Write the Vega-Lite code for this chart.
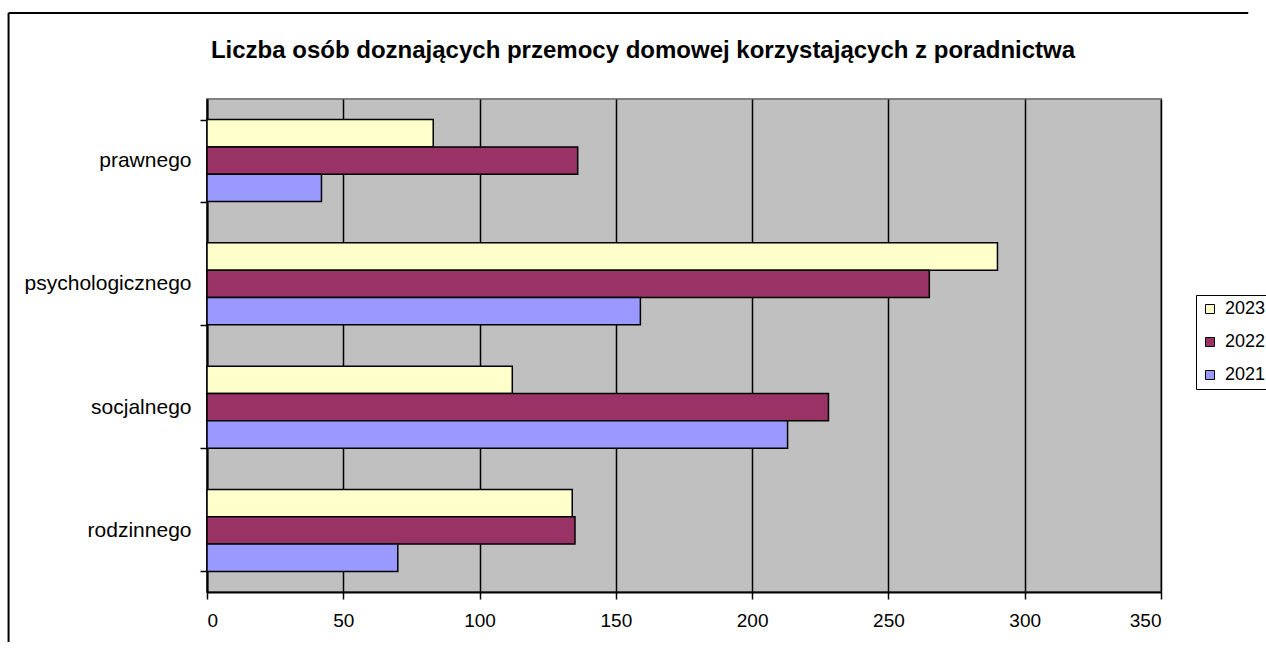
{
  "$schema": "https://vega.github.io/schema/vega-lite/v6.json",
  "width": 954,
  "height": 493,
  "autosize": {"type": "none"},
  "padding": {"left": 207, "top": 99, "right": 105, "bottom": 59},
  "background": "white",
  "title": {
    "text": "Liczba osób doznających przemocy domowej korzystających z poradnictwa",
    "font": "Liberation Sans",
    "fontSize": 24,
    "fontWeight": "bold",
    "color": "black",
    "anchor": "middle",
    "dx": -41,
    "baseline": "alphabetic",
    "offset": -70
  },
  "config": {
    "view": {"fill": "#C0C0C0", "stroke": "#808080", "strokeWidth": 2},
    "font": "Liberation Sans"
  },
  "datasets": {
    "bars": [
      {"rodzaj": "prawnego", "rok": "2023", "liczba": 83},
      {"rodzaj": "prawnego", "rok": "2022", "liczba": 136},
      {"rodzaj": "prawnego", "rok": "2021", "liczba": 42},
      {"rodzaj": "psychologicznego", "rok": "2023", "liczba": 290},
      {"rodzaj": "psychologicznego", "rok": "2022", "liczba": 265},
      {"rodzaj": "psychologicznego", "rok": "2021", "liczba": 159},
      {"rodzaj": "socjalnego", "rok": "2023", "liczba": 112},
      {"rodzaj": "socjalnego", "rok": "2022", "liczba": 228},
      {"rodzaj": "socjalnego", "rok": "2021", "liczba": 213},
      {"rodzaj": "rodzinnego", "rok": "2023", "liczba": 134},
      {"rodzaj": "rodzinnego", "rok": "2022", "liczba": 135},
      {"rodzaj": "rodzinnego", "rok": "2021", "liczba": 70}
    ],
    "frame": [{"frame": "chart"}]
  },
  "layer": [
    {
      "data": {"name": "bars"},
      "mark": {"type": "bar", "stroke": "black", "strokeWidth": 1.5, "opacity": 1},
      "encoding": {
        "y": {
          "field": "rodzaj",
          "type": "nominal",
          "sort": ["prawnego", "psychologicznego", "socjalnego", "rodzinnego"],
          "scale": {"paddingInner": 0.335, "paddingOuter": 0.167},
          "axis": {
            "title": null,
            "labelFont": "Liberation Sans",
            "labelFontSize": 21,
            "labelColor": "black",
            "labelPadding": 9,
            "tickBand": "extent",
            "tickSize": 7,
            "tickColor": "black",
            "tickWidth": 1.5,
            "domainColor": "black",
            "domainWidth": 2,
            "grid": false
          }
        },
        "yOffset": {
          "field": "rok",
          "type": "nominal",
          "sort": ["2023", "2022", "2021"],
          "scale": {"paddingInner": 0, "paddingOuter": 0}
        },
        "x": {
          "field": "liczba",
          "type": "quantitative",
          "scale": {"domain": [0, 350], "nice": false},
          "axis": {
            "title": null,
            "values": [0, 50, 100, 150, 200, 250, 300, 350],
            "labelFont": "Liberation Sans",
            "labelFontSize": 19,
            "labelColor": "black",
            "labelPadding": 12,
            "tickSize": 7,
            "tickColor": "black",
            "tickWidth": 1.5,
            "domainColor": "black",
            "domainWidth": 2,
            "grid": true,
            "gridColor": "black",
            "gridWidth": 1.5,
            "gridOpacity": 1
          }
        },
        "color": {
          "field": "rok",
          "type": "nominal",
          "sort": ["2023", "2022", "2021"],
          "scale": {"domain": ["2023", "2022", "2021"], "range": ["#FFFFCC", "#993366", "#9999FF"]},
          "legend": {
            "title": null,
            "orient": "none",
            "legendX": 989,
            "legendY": 196,
            "symbolType": "square",
            "symbolSize": 81,
            "symbolStrokeColor": "black",
            "symbolStrokeWidth": 1,
            "symbolOpacity": 1,
            "labelFont": "Liberation Sans",
            "labelFontSize": 18,
            "labelColor": "black",
            "labelOffset": 6,
            "rowPadding": 15,
            "padding": 5,
            "strokeColor": "black",
            "fillColor": "white"
          }
        }
      }
    },
    {
      "data": {"name": "frame"},
      "mark": {"type": "rule", "stroke": "black", "strokeWidth": 2, "clip": false},
      "encoding": {
        "x": {"datum": -72.8, "type": "quantitative"},
        "y": {"datum": 579, "type": "quantitative", "scale": {"domain": [0, 493], "nice": false, "zero": false}, "axis": null},
        "y2": {"datum": -50}
      }
    },
    {
      "data": {"name": "frame"},
      "mark": {"type": "rule", "stroke": "black", "strokeWidth": 2, "clip": false},
      "encoding": {
        "x": {"datum": -72.8, "type": "quantitative"},
        "x2": {"datum": 382},
        "y": {"datum": 579, "type": "quantitative", "scale": {"domain": [0, 493], "nice": false, "zero": false}, "axis": null}
      }
    }
  ],
  "resolve": {"scale": {"y": "independent"}}
}
